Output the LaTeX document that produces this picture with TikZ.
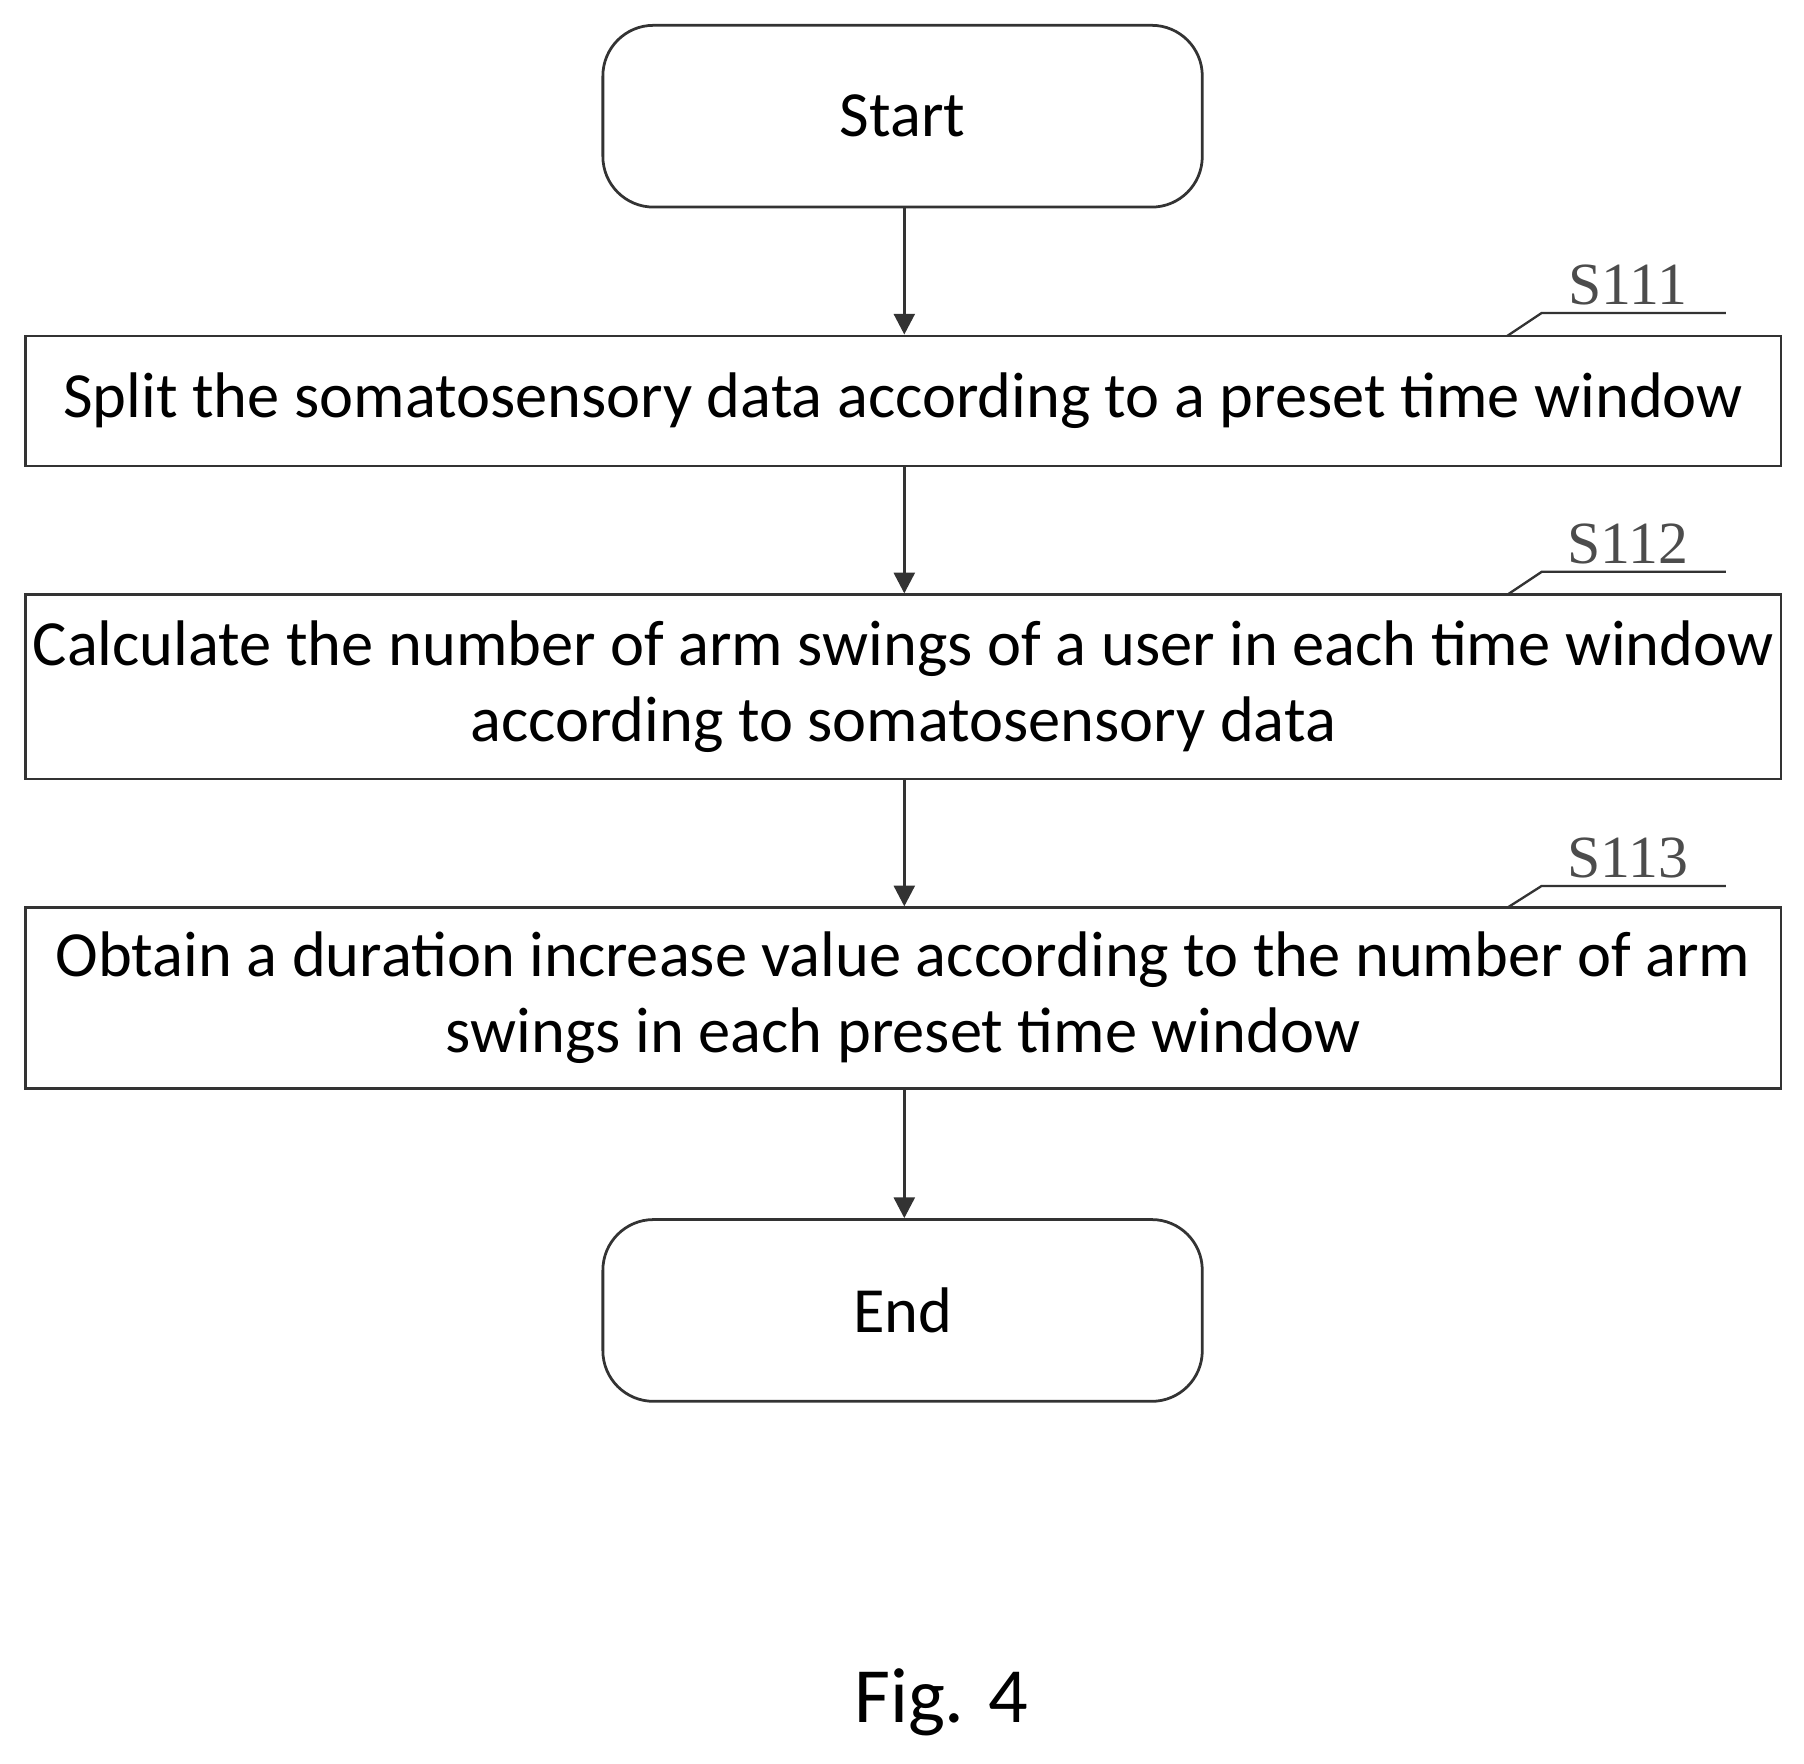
\documentclass[tikz,border=0pt]{standalone}
\usepackage{fontspec}
\setmainfont{Carlito}
\newfontfamily\lblfont{Liberation Serif}
\usetikzlibrary{arrows.meta}
\begin{document}
\begin{tikzpicture}[x=0.5pt,y=-0.5pt,
  box/.style={draw=black!80,line width=1.2pt,inner sep=0pt,align=center,font=\fontsize{28}{33}\selectfont},
  term/.style={box,rounded corners=22pt},
  arr/.style={draw=black!80,line width=1.4pt,-{Triangle[length=9pt,width=9pt]}},
  lbl/.style={font=\lblfont\fontsize{26}{26}\selectfont,text=black!70}]
\useasboundingbox (0,0) rectangle (1568,1533);
\node[term,minimum width=260.5pt,minimum height=79pt] (start) at (784.5,101) {Start};
\node[box,minimum width=763pt,minimum height=56.5pt] (s1) at (785,348.5) {Split the somatosensory data according to a preset time window};
\node[box,minimum width=763pt,minimum height=80pt] (s2) at (785,597) {Calculate the number of arm swings of a user in each time window\\according to somatosensory data};
\node[box,minimum width=763pt,minimum height=78.5pt] (s3) at (785,867.5) {Obtain a duration increase value according to the number of arm\\swings in each preset time window};
\node[term,minimum width=260.5pt,minimum height=79pt] (end) at (784.5,1139) {End};
\draw[arr] (start.south -| 786,0) -- (s1.north -| 786,0);
\draw[arr] (s1.south -| 786,0) -- (s2.north -| 786,0);
\draw[arr] (s2.south -| 786,0) -- (s3.north -| 786,0);
\draw[arr] (s3.south -| 786,0) -- (end.north -| 786,0);
\foreach \n/\y/\ly/\t in {s1/292/272/S111,s2/517/497/S112,s3/789/770/S113}{
  \coordinate (a\n) at (1310,\y);
  \coordinate (b\n) at (1340,\ly);
  \coordinate (c\n) at (1500,\ly);
  \draw[black!80,line width=1pt] (a\n) -- (b\n) -- (c\n);
  \node[lbl,anchor=south] (l\n) at (1415,\ly) {\t};
}
\node[font=\fontsize{34}{34}\selectfont] (fig) at (818,1480) {Fig. 4};
\end{tikzpicture}
\end{document}
